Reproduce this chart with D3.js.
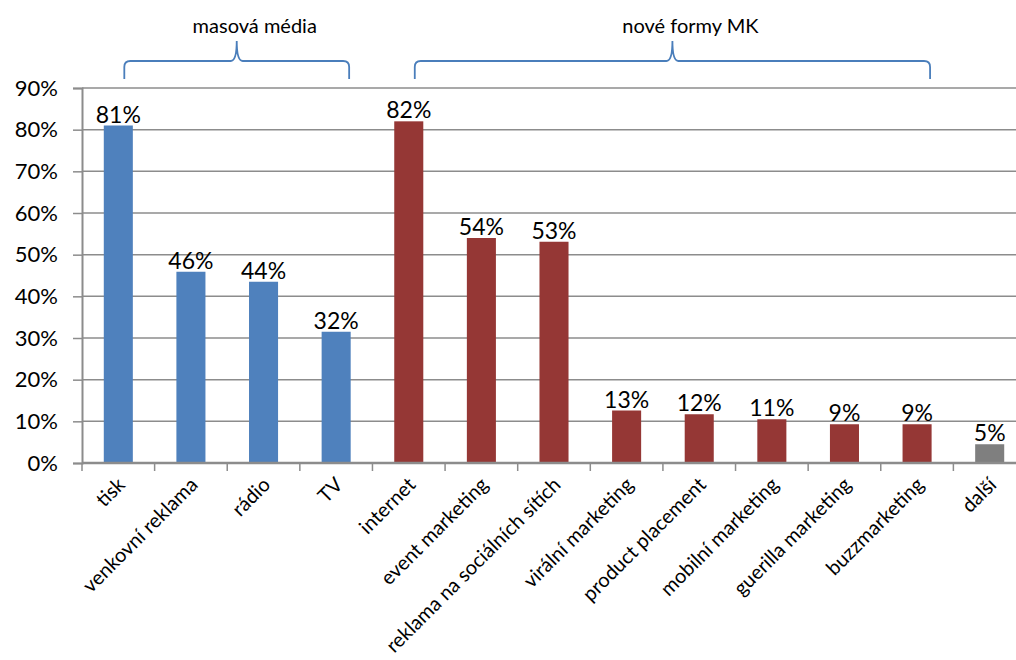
<!DOCTYPE html>
<html>
<head>
<meta charset="utf-8">
<script src="https://cdn.jsdelivr.net/npm/d3@7"></script>
<style>
  body { margin: 0; background: white; }
  svg { font-family: Lato, "Open Sans", sans-serif; }
</style>
</head>
<body>
<script>
const width = 1016;
const height = 660;

// data
const categories = ["tisk", "venkovní reklama", "rádio", "TV", "internet", "event marketing",
    "reklama na sociálních sítích", "virální marketing", "product placement",
    "mobilní marketing", "guerilla marketing", "buzzmarketing", "další"];
const values = [0.81, 0.459, 0.435, 0.315, 0.82, 0.54, 0.531, 0.126, 0.117, 0.105, 0.093, 0.093, 0.045];
const groups = ["masová média", "masová média", "masová média", "masová média",
    "nové formy MK", "nové formy MK", "nové formy MK", "nové formy MK", "nové formy MK",
    "nové formy MK", "nové formy MK", "nové formy MK", "další"];
const yTicks = [0, 0.1, 0.2, 0.3, 0.4, 0.5, 0.6, 0.7, 0.8, 0.9];
const braces = [
    { label: "masová média", from: "tisk", to: "TV" },
    { label: "nové formy MK", from: "internet", to: "buzzmarketing" }
];

const colors = { "masová média": "#4f81bd", "nové formy MK": "#953735", "další": "#7f7f7f" };

// plot area (right edge runs past the window, like the original)
const plotLeft = 82, plotRight = 1026, plotTop = 88, plotBottom = 463;

let svg = d3.select("body").append("svg")
    .attr("width", width)
    .attr("height", height);

let xScale = d3.scaleBand()
    .domain(categories)
    .range([plotLeft, plotRight])
    .paddingInner(0.6)
    .paddingOuter(0.3);

let xBand = d3.scaleBand().domain(categories).range([plotLeft, plotRight]);

let yScale = d3.scaleLinear()
    .domain([0, 0.9])
    .range([plotBottom, plotTop]);

// gridlines
svg.append("g")
    .selectAll("line")
    .data(yTicks.slice(1))
    .enter()
    .append("line")
    .attr("x1", plotLeft)
    .attr("x2", plotRight)
    .attr("y1", d => yScale(d))
    .attr("y2", d => yScale(d))
    .attr("stroke", "#8c8c8c")
    .attr("stroke-width", 1.5);

// y axis
let yAxis = svg.append("g")
    .attr("transform", `translate(${plotLeft},0)`)
    .call(d3.axisLeft(yScale).tickValues(yTicks).tickFormat(d3.format(".0%")).tickSize(9).tickPadding(15));
yAxis.select(".domain").attr("stroke", "#8c8c8c").attr("stroke-width", 2);
yAxis.selectAll(".tick line").attr("stroke", "#8c8c8c").attr("stroke-width", 1.5);
yAxis.selectAll(".tick text")
    .attr("fill", "black")
    .style("font-size", "22px")
    .style("font-family", "Lato, sans-serif");

// bars
svg.append("g")
    .selectAll("rect")
    .data(categories)
    .enter()
    .append("rect")
    .attr("x", d => xScale(d))
    .attr("width", xScale.bandwidth())
    .attr("y", (d, i) => yScale(values[i]))
    .attr("height", (d, i) => plotBottom - yScale(values[i]))
    .attr("fill", (d, i) => colors[groups[i]]);

// value labels
svg.append("g")
    .selectAll("text")
    .data(categories)
    .enter()
    .append("text")
    .attr("x", d => xScale(d) + xScale.bandwidth() / 2)
    .attr("y", (d, i) => yScale(values[i]) - 3)
    .attr("text-anchor", "middle")
    .style("font-size", "23px")
    .text((d, i) => d3.format(".0%")(values[i]));

// x axis
let xAxis = svg.append("g")
    .attr("transform", `translate(0,${plotBottom})`);
xAxis.append("line")
    .attr("x1", plotLeft).attr("x2", plotRight)
    .attr("stroke", "#8c8c8c").attr("stroke-width", 2.5);
xAxis.selectAll(".tk")
    .data(categories)
    .enter()
    .append("line")
    .attr("class", "tk")
    .attr("x1", d => xBand(d))
    .attr("x2", d => xBand(d))
    .attr("y1", 0).attr("y2", 8)
    .attr("stroke", "#8c8c8c").attr("stroke-width", 1.5);
xAxis.selectAll(".lbl")
    .data(categories)
    .enter()
    .append("text")
    .attr("class", "lbl")
    .attr("text-anchor", "end")
    .attr("transform", d => `translate(${xScale(d) + xScale.bandwidth() / 2 + 8},${23}) rotate(-45)`)
    .style("font-size", "20px")
    .text(d => d);

// group braces
braces.forEach(b => {
    let x1 = xScale(b.from) + xScale.bandwidth() / 2 + 6;
    let x2 = xScale(b.to) + xScale.bandwidth() / 2 + 13;
    let xm = (x1 + x2) / 2;
    let yb = 79, yh = 61, yt = 41, r = 6;
    let path = `M${x1},${yb} L${x1},${yh + r} Q${x1},${yh} ${x1 + r},${yh} L${xm - r},${yh} Q${xm},${yh} ${xm},${yt}
        Q${xm},${yh} ${xm + r},${yh} L${x2 - r},${yh} Q${x2},${yh} ${x2},${yh + r} L${x2},${yb}`;
    svg.append("path")
        .attr("d", path)
        .attr("fill", "none")
        .attr("stroke", "#4a7ebb")
        .attr("stroke-width", 1.8);
    svg.append("text")
        .attr("x", xm + 18)
        .attr("y", 33)
        .attr("text-anchor", "middle")
        .style("font-size", "20px")
        .text(b.label);
});
</script>
</body>
</html>
